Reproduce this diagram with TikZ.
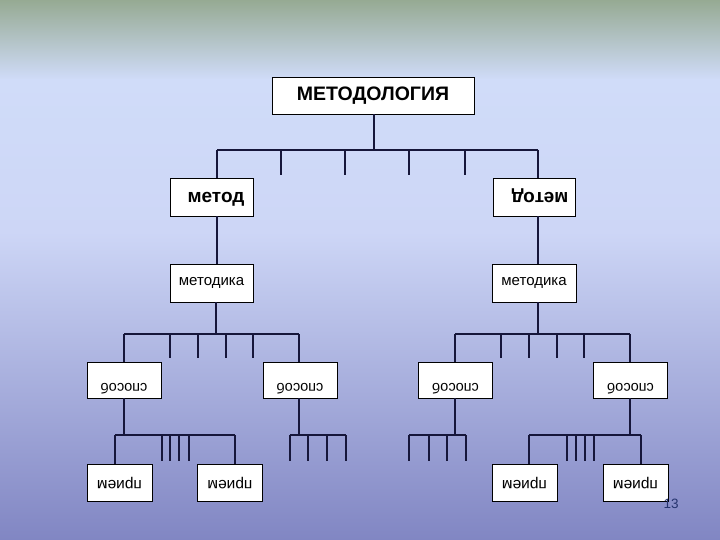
\documentclass[tikz,border=0pt]{standalone}
\usepackage{fontspec}
\usepackage{graphicx}
\setmainfont{Liberation Sans}
\definecolor{bgA}{HTML}{96AA93}
\definecolor{bgB}{HTML}{D0DCF9}
\definecolor{bgC}{HTML}{CDD6F6}
\definecolor{bgD}{HTML}{8186C3}
\definecolor{lnc}{HTML}{16163A}
\definecolor{numc}{HTML}{26346E}
\tikzset{
  ln/.style={draw=lnc, line width=1.2pt},
  box/.style={draw=black, fill=white, line width=0.8pt, inner sep=0pt, align=center},
}
\newcommand{\rot}[1]{\rotatebox[origin=c]{180}{#1}}
\begin{document}
\begin{tikzpicture}[x=1pt,y=-1pt]
\path[use as bounding box] (0,0) rectangle (720,540);
% background
\shade[top color=bgA, bottom color=bgB] (0,0) rectangle (720,80);
\shade[top color=bgB, bottom color=bgC] (0,80) rectangle (720,232);
\shade[top color=bgC, bottom color=bgD] (0,232) rectangle (720,540);

% nodes
\node[box, minimum width=202pt, minimum height=37pt, font=\bfseries\fontsize{19.5}{22}\selectfont] (meth) at (373,95.5) {МЕТОДОЛОГИЯ};
\node[box, minimum width=83pt, minimum height=38pt, text height=11pt, text depth=0pt, font=\bfseries\fontsize{19}{22}\selectfont] (m1) at (211.5,197) {\hspace{9pt}метод};
\node[box, minimum width=82pt, minimum height=38pt, text height=3.4pt, text depth=0pt, font=\bfseries\fontsize{19}{22}\selectfont] (m2) at (534,197) {\hspace{12pt}\rot{метод}};
\node[box, minimum width=83pt, minimum height=38pt, font=\fontsize{15}{18}\selectfont] (mk1) at (211.5,283) {методика};
\node[box, minimum width=84pt, minimum height=38pt, font=\fontsize{15}{18}\selectfont] (mk2) at (534,283) {методика};
\foreach \n/\x in {sp1/124, sp2/300, sp3/455.5, sp4/630.5}
  \node[box, minimum width=74pt, minimum height=36pt, text height=27.5pt, text depth=0pt, font=\fontsize{14.5}{17}\selectfont] (\n) at (\x,380) {\rot{способ}};
\foreach \n/\x in {pr1/119.5, pr2/230, pr3/524.5, pr4/635.5}
  \node[box, minimum width=65pt, minimum height=37pt, text height=6.5pt, text depth=0pt, font=\fontsize{15.5}{18}\selectfont] (\n) at (\x,482.5) {\rot{прием}};
\node[text=numc, font=\fontsize{13.5}{16}\selectfont, inner sep=0pt] (pnum) at (671,504) {13};

% level 1
\coordinate (j0) at (374,150);
\draw[ln] (374,114 |- meth.south) -- (j0);
\coordinate (hL1) at (217,150);
\coordinate (hR1) at (538,150);
\draw[ln] (hL1) -- (hR1);
\draw[ln] (hL1) -- (hL1 |- m1.north);
\draw[ln] (hR1) -- (hR1 |- m2.north);
\foreach \x in {281,345,409,465}{
  \coordinate (ta\x) at (\x,150); \coordinate (tb\x) at (\x,175);
  \draw[ln] (ta\x) -- (tb\x);}
% метод -> методика
\draw[ln] (hL1 |- m1.south) -- (hL1 |- mk1.north);
\draw[ln] (hR1 |- m2.south) -- (hR1 |- mk2.north);

% level 2 left
\coordinate (jL2) at (216,334);
\draw[ln] (jL2 |- mk1.south) -- (jL2);
\coordinate (hL2a) at (124,334); \coordinate (hL2b) at (299,334);
\draw[ln] (hL2a) -- (hL2b);
\draw[ln] (hL2a) -- (hL2a |- sp1.north);
\draw[ln] (hL2b) -- (hL2b |- sp2.north);
\foreach \x in {170,198,226,253}{
  \coordinate (ua\x) at (\x,334); \coordinate (ub\x) at (\x,358);
  \draw[ln] (ua\x) -- (ub\x);}
% level 2 right
\coordinate (jR2) at (538,334);
\draw[ln] (jR2 |- mk2.south) -- (jR2);
\coordinate (hR2a) at (455,334); \coordinate (hR2b) at (630,334);
\draw[ln] (hR2a) -- (hR2b);
\draw[ln] (hR2a) -- (hR2a |- sp3.north);
\draw[ln] (hR2b) -- (hR2b |- sp4.north);
\foreach \x in {501,529,557,584}{
  \coordinate (va\x) at (\x,334); \coordinate (vb\x) at (\x,358);
  \draw[ln] (va\x) -- (vb\x);}

% level 3: under sp1
\coordinate (k1) at (124,435);
\draw[ln] (k1 |- sp1.south) -- (k1);
\coordinate (k1a) at (115,435); \coordinate (k1b) at (235,435);
\draw[ln] (k1a) -- (k1b);
\draw[ln] (k1a) -- (k1a |- pr1.north);
\draw[ln] (k1b) -- (k1b |- pr2.north);
\foreach \x in {162,170,179,189}{
  \coordinate (wa\x) at (\x,435); \coordinate (wb\x) at (\x,461);
  \draw[ln] (wa\x) -- (wb\x);}
% under sp2
\coordinate (k2) at (299,435);
\draw[ln] (k2 |- sp2.south) -- (k2);
\coordinate (k2a) at (290,435); \coordinate (k2b) at (346,435);
\draw[ln] (k2a) -- (k2b);
\foreach \x in {290,308,327,346}{
  \coordinate (xa\x) at (\x,435); \coordinate (xb\x) at (\x,461);
  \draw[ln] (xa\x) -- (xb\x);}
% under sp3
\coordinate (k3) at (455,435);
\draw[ln] (k3 |- sp3.south) -- (k3);
\coordinate (k3a) at (409,435); \coordinate (k3b) at (466,435);
\draw[ln] (k3a) -- (k3b);
\foreach \x in {409,429,447,466}{
  \coordinate (ya\x) at (\x,435); \coordinate (yb\x) at (\x,461);
  \draw[ln] (ya\x) -- (yb\x);}
% under sp4
\coordinate (k4) at (630,435);
\draw[ln] (k4 |- sp4.south) -- (k4);
\coordinate (k4a) at (529,435); \coordinate (k4b) at (641,435);
\draw[ln] (k4a) -- (k4b);
\draw[ln] (k4a) -- (k4a |- pr3.north);
\draw[ln] (k4b) -- (k4b |- pr4.north);
\foreach \x in {567,576,585,594}{
  \coordinate (za\x) at (\x,435); \coordinate (zb\x) at (\x,461);
  \draw[ln] (za\x) -- (zb\x);}
\end{tikzpicture}
\end{document}
